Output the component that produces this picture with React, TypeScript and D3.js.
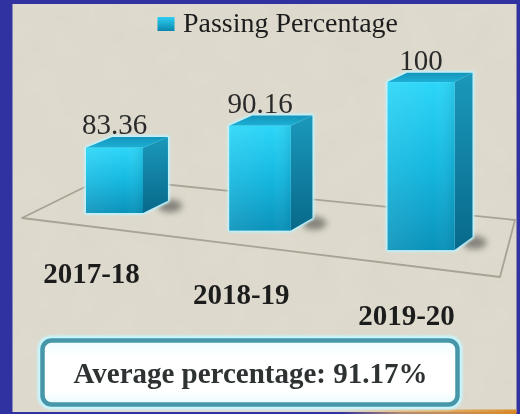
import React from "react";
import * as d3 from "d3";

const categories = ["2017-18", "2018-19", "2019-20"];
const passing = [83.36, 90.16, 100];
const seriesName = "Passing Percentage";
const averageValue = 91.17;
const averageLabel = "Average percentage: ";

const W = 520;
const H = 414;
const FONT = "'Liberation Serif', 'Times New Roman', serif";

type P = [number, number];

export default function App() {
  // perspective helpers
  const u = d3.scalePoint<string>().domain(categories).range([0, 1]);
  const cxAt = (t: number) => (266 * t + 114.5) / (1 - 0.0963 * t);
  const widthAt = (t: number) => 57 / (1 - 0.149 * t);
  const hScale = d3.scaleLinear().domain([69.4, 100]).range([0, 168]);
  const baseY = (x: number) => 213 + 0.121 * (x - 114.5);
  const VP: P = [1257, -330];
  const depthT = 0.0224;
  const back = (p: P): P => [p[0] + depthT * (VP[0] - p[0]), p[1] + depthT * (VP[1] - p[1])];
  const pts = (arr: P[]) => arr.map((p) => p.join(",")).join(" ");

  const floor: P[] = [
    [22, 218],
    [103, 178],
    [515, 220],
    [500, 277],
  ];

  const bars = categories.map((cat, i) => {
    const t = u(cat) as number;
    const c = cxAt(t);
    const w = widthAt(t);
    const s = w / widthAt(1);
    const h = s * hScale(passing[i]);
    const x0 = c - w / 2;
    const x1 = c + w / 2;
    const yb = baseY(c);
    const yt = yb - h;
    const btr = back([x1, yt]);
    const btl = back([x0, yt]);
    const bbr = back([x1, yb]);
    return { cat, t, c, w, x0, x1, yb, yt, btr, btl, bbr, v: passing[i] };
  });

  return (
    <svg
      width={W}
      height={H}
      viewBox={`0 0 ${W} ${H}`}
      style={{ position: "absolute", left: 0, top: 0, display: "block" }}
    >
      <defs>
        <linearGradient id="front" x1="0" y1="0" x2="0" y2="1">
          <stop offset="0" stopColor="#2cd6f8" />
          <stop offset="0.5" stopColor="#15b8e0" />
          <stop offset="1" stopColor="#0a92ba" />
        </linearGradient>
        <linearGradient id="frontH" x1="0" y1="0" x2="1" y2="0">
          <stop offset="0" stopColor="#ffffff" stopOpacity="0.08" />
          <stop offset="0.7" stopColor="#ffffff" stopOpacity="0" />
          <stop offset="1" stopColor="#003a50" stopOpacity="0.12" />
        </linearGradient>
        <linearGradient id="side" x1="0" y1="0" x2="0" y2="1">
          <stop offset="0" stopColor="#1a98bb" />
          <stop offset="1" stopColor="#08698a" />
        </linearGradient>
        <linearGradient id="top" x1="0" y1="0" x2="0" y2="1">
          <stop offset="0" stopColor="#1695bb" />
          <stop offset="1" stopColor="#1cb0d6" />
        </linearGradient>
        <linearGradient id="legendSq" x1="0" y1="0" x2="0" y2="1">
          <stop offset="0" stopColor="#2ccff2" />
          <stop offset="1" stopColor="#0a86ad" />
        </linearGradient>
        <linearGradient id="boxFill" x1="0" y1="0" x2="0" y2="1">
          <stop offset="0" stopColor="#eefcff" />
          <stop offset="0.25" stopColor="#ffffff" />
          <stop offset="0.8" stopColor="#ffffff" />
          <stop offset="1" stopColor="#e8fbff" />
        </linearGradient>
        <linearGradient id="orange" x1="0" y1="0" x2="1" y2="0">
          <stop offset="0" stopColor="#e8b060" stopOpacity="0" />
          <stop offset="0.35" stopColor="#e8b060" stopOpacity="0.7" />
          <stop offset="1" stopColor="#d98a28" stopOpacity="1" />
        </linearGradient>
        <filter id="blur3" x="-50%" y="-50%" width="200%" height="200%">
          <feGaussianBlur stdDeviation="3" />
        </filter>
        <filter id="blur1" x="-20%" y="-20%" width="140%" height="140%">
          <feGaussianBlur stdDeviation="1.2" />
        </filter>
        <filter id="soft" x="-5%" y="-5%" width="110%" height="110%">
          <feGaussianBlur stdDeviation="0.5" />
        </filter>
        <filter id="noise" x="0" y="0" width="100%" height="100%">
          <feTurbulence type="fractalNoise" baseFrequency="0.03" numOctaves="2" seed="7" />
          <feColorMatrix
            type="matrix"
            values="0 0 0 0 0.6  0 0 0 0 0.56  0 0 0 0 0.48  0.18 0 0 0 -0.05"
          />
        </filter>
      </defs>

      {/* frame */}
      <rect x={0} y={0} width={W} height={H} fill="#2f32a0" />
      <rect x={12.5} y={4} width={504} height={408} fill="#dedacd" />
      <rect x={12.5} y={4} width={504} height={408} filter="url(#noise)" />
      <rect x={340} y={409.5} width={176.5} height={4.5} fill="url(#orange)" />

      {/* legend */}
      <rect x={157.5} y={17} width={17} height={14} fill="url(#legendSq)" />
      <text
        x={183}
        y={32}
        fontFamily={FONT}
        fontSize={28}
        fill="#1e1e1e"
        textLength={215}
        lengthAdjust="spacingAndGlyphs"
        filter="url(#soft)"
      >
        {seriesName}
      </text>

      {/* floor */}
      <polygon
        points={pts(floor)}
        fill="none"
        stroke="#a8a395"
        strokeWidth={1.8}
        strokeLinejoin="round"
        filter="url(#soft)"
      />

      {/* bars */}
      {bars.map((b) => (
        <g key={b.cat}>
          {/* shadow */}
          <ellipse
            cx={b.bbr[0] + 2}
            cy={(b.yb + b.bbr[1]) / 2 - 1}
            rx={12}
            ry={6.5}
            fill="#4a4a44"
            opacity={0.6}
            filter="url(#blur3)"
          />
          {/* glow */}
          <polygon
            points={pts([
              [b.x0, b.yb],
              [b.x0, b.yt],
              b.btl,
              b.btr,
              b.bbr,
              [b.x1, b.yb],
            ])}
            fill="#bff4ff"
            stroke="#bff4ff"
            strokeWidth={3.5}
            strokeLinejoin="round"
            filter="url(#blur1)"
          />
          <polygon points={pts([[b.x1, b.yt], b.btr, b.bbr, [b.x1, b.yb]])} fill="url(#side)" />
          <polygon points={pts([[b.x0, b.yt], [b.x1, b.yt], b.btr, b.btl])} fill="url(#top)" />
          <rect x={b.x0} y={b.yt} width={b.x1 - b.x0} height={b.yb - b.yt} fill="url(#front)" />
          <rect
            x={b.x0}
            y={b.yt}
            width={b.x1 - b.x0}
            height={b.yb - b.yt}
            fill="url(#frontH)"
          />
          <text
            x={b.c}
            y={b.btl[1] - 3}
            textAnchor="middle"
            fontFamily={FONT}
            fontSize={29}
            fill="#2c2c2c"
            filter="url(#soft)"
          >
            {String(b.v)}
          </text>
          <text
            x={b.c - 23 + 8.5 * b.t}
            y={283 + 42 * b.t}
            textAnchor="middle"
            fontFamily={FONT}
            fontWeight="bold"
            fontSize={29}
            fill="#1c1c1c"
            filter="url(#soft)"
          >
            {b.cat}
          </text>
        </g>
      ))}

      {/* average box */}
      <rect
        x={40}
        y={338}
        width={420}
        height={69}
        rx={11}
        fill="none"
        stroke="#c8f6ff"
        strokeWidth={5}
        filter="url(#blur1)"
      />
      <rect
        x={42.5}
        y={340.5}
        width={415}
        height={64}
        rx={9}
        fill="url(#boxFill)"
        stroke="#4797a9"
        strokeWidth={4.5}
      />
      <text
        x={250.5}
        y={383}
        textAnchor="middle"
        fontFamily={FONT}
        fontWeight="bold"
        fontSize={29}
        fill="#2e3333"
        filter="url(#soft)"
      >
        {averageLabel + averageValue.toFixed(2) + "%"}
      </text>
    </svg>
  );
}
